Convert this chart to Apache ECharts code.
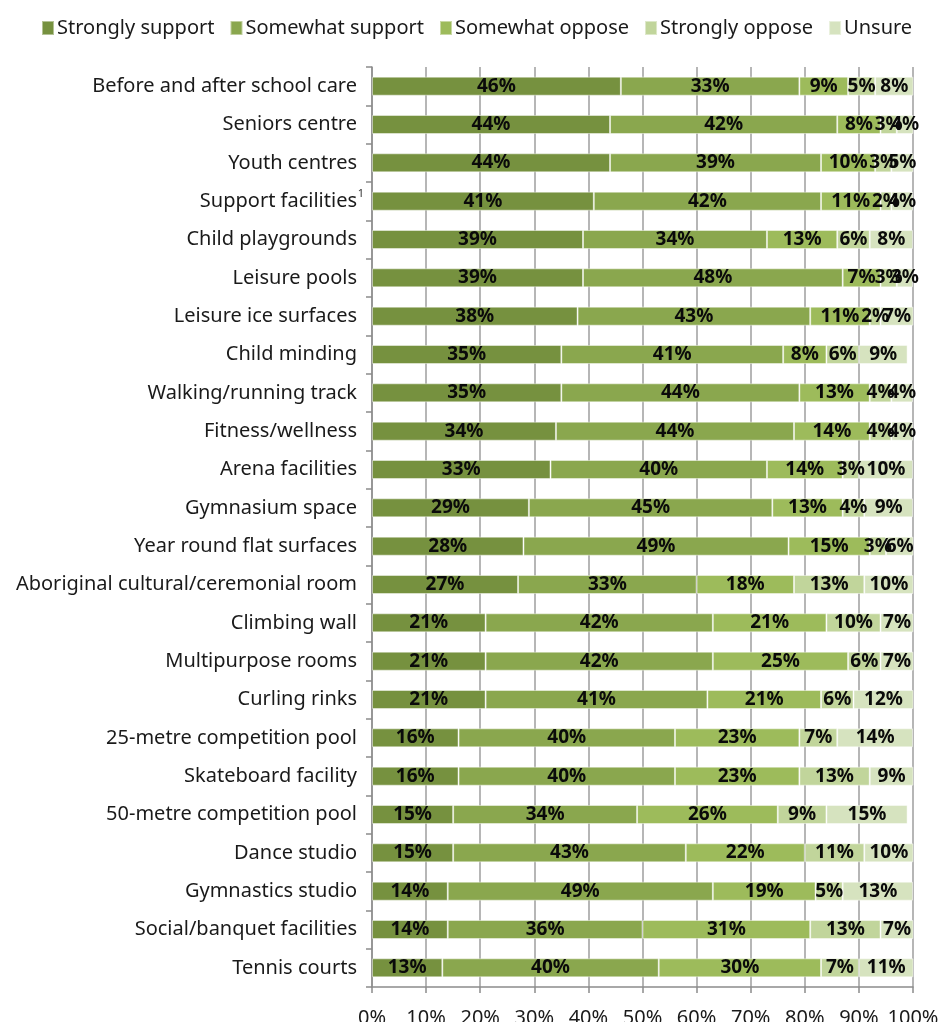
<!DOCTYPE html>
<html>
<head>
<meta charset="utf-8">
<title>Support for facility components</title>
<script src="https://cdn.jsdelivr.net/npm/echarts@6/dist/echarts.min.js"></script>
<style>
  html, body { margin: 0; padding: 0; background: #ffffff; }
  #chart { width: 943px; height: 1022px; }
</style>
</head>
<body>
<div id="chart"></div>
<script>
// Facilities, listed top to bottom
const categories = [
  'Before and after school care', 'Seniors centre', 'Youth centres', 'Support facilities',
  'Child playgrounds', 'Leisure pools', 'Leisure ice surfaces', 'Child minding',
  'Walking/running track', 'Fitness/wellness', 'Arena facilities', 'Gymnasium space',
  'Year round flat surfaces', 'Aboriginal cultural/ceremonial room', 'Climbing wall',
  'Multipurpose rooms', 'Curling rinks', '25-metre competition pool', 'Skateboard facility',
  '50-metre competition pool', 'Dance studio', 'Gymnastics studio',
  'Social/banquet facilities', 'Tennis courts'
];

// Footnote markers shown after a facility name
const footnotes = { 'Support facilities': '1' };

const seriesNames = ['Strongly support', 'Somewhat support', 'Somewhat oppose', 'Strongly oppose', 'Unsure'];
const seriesColors = ['#76913f', '#8aa74e', '#9dbb5b', '#c1d59b', '#d6e3bf'];

// Percent of respondents per facility
const stronglySupport = [46, 44, 44, 41, 39, 39, 38, 35, 35, 34, 33, 29, 28, 27, 21, 21, 21, 16, 16, 15, 15, 14, 14, 13];
const somewhatSupport = [33, 42, 39, 42, 34, 48, 43, 41, 44, 44, 40, 45, 49, 33, 42, 42, 41, 40, 40, 34, 43, 49, 36, 40];
const somewhatOppose  = [9, 8, 10, 11, 13, 7, 11, 8, 13, 14, 14, 13, 15, 18, 21, 25, 21, 23, 23, 26, 22, 19, 31, 30];
const stronglyOppose  = [5, 3, 3, 2, 6, 3, 2, 6, 4, 4, 3, 4, 3, 13, 10, 6, 6, 7, 13, 9, 11, 5, 13, 7];
const unsure          = [8, 4, 5, 4, 8, 3, 7, 9, 4, 4, 10, 9, 6, 10, 7, 7, 12, 14, 9, 15, 10, 13, 7, 11];

const seriesValues = [stronglySupport, somewhatSupport, somewhatOppose, stronglyOppose, unsure];

const FONT = '"Noto Sans", "Open Sans", sans-serif';
const TEXT = '#1a1a1a';
const AXIS = '#8c8c8c';

const chart = echarts.init(document.getElementById('chart'), null, { renderer: 'canvas' });

chart.setOption({
  animation: false,
  backgroundColor: '#ffffff',
  textStyle: { fontFamily: FONT },
  color: seriesColors,
  legend: {
    top: 13,
    left: 36,
    icon: 'rect',
    itemWidth: 12,
    itemHeight: 14,
    itemGap: 15,
    textStyle: { fontFamily: FONT, fontSize: 20, color: TEXT, padding: [0, 0, 0, -2] },
    data: seriesNames
  },
  grid: { left: 372, right: 30, top: 67, bottom: 35, containLabel: false, outerBoundsMode: 'none' },
  xAxis: {
    type: 'value',
    min: 0,
    max: 100,
    interval: 10,
    axisLine: { show: true, lineStyle: { color: AXIS, width: 1.5 } },
    axisTick: { show: true, length: 6, lineStyle: { color: AXIS, width: 1.5 } },
    axisLabel: {
      formatter: '{value}%',
      fontFamily: FONT,
      fontSize: 20,
      color: TEXT,
      margin: 21
    },
    splitLine: { show: true, lineStyle: { color: '#9e9e9e', width: 1.5 } }
  },
  yAxis: {
    type: 'category',
    inverse: true,
    data: categories,
    axisLine: { show: true, lineStyle: { color: AXIS, width: 1.5 } },
    axisTick: { show: true, length: 6, lineStyle: { color: AXIS, width: 1.5 } },
    axisLabel: {
      margin: 7,
      fontFamily: FONT,
      fontSize: 20,
      color: TEXT,
      formatter: function (name) {
        const mark = footnotes[name] || ' ';
        return '{n|' + name + '}{s|' + mark + '}';
      },
      rich: {
        n: { fontFamily: FONT, fontSize: 20, color: TEXT, lineHeight: 26 },
        s: { fontFamily: FONT, fontSize: 11, color: '#333333', width: 8, align: 'left', verticalAlign: 'top', lineHeight: 26 }
      }
    }
  },
  series: seriesNames.map(function (name, i) {
    return {
      name: name,
      type: 'bar',
      stack: 'total',
      barWidth: 19,
      clip: true,
      data: seriesValues[i],
      itemStyle: {
        color: seriesColors[i],
        borderColor: 'rgba(255,255,255,0.45)',
        borderWidth: 1
      },
      label: {
        show: true,
        position: 'inside',
        formatter: '{c}%',
        fontFamily: FONT,
        fontSize: 19,
        fontWeight: 'bold',
        color: '#0a0a0a'
      }
    };
  })
});
</script>
</body>
</html>
